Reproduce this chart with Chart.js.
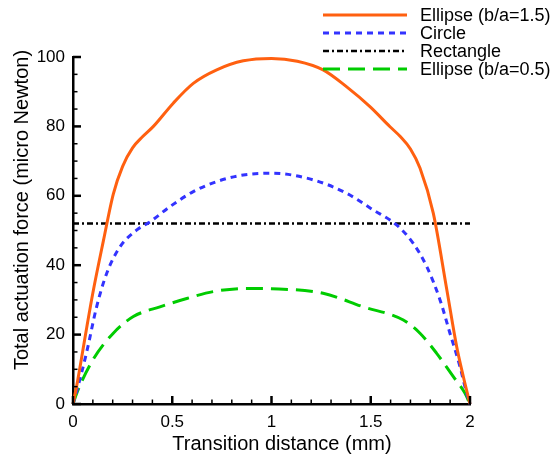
<!DOCTYPE html>
<html>
<head>
<meta charset="utf-8">
<script src="https://cdn.jsdelivr.net/npm/chart.js@4.4.1/dist/chart.umd.min.js"></script>
<style>
  html, body { margin: 0; padding: 0; background: #fff; }
  #wrap { width: 551px; height: 457px; }
</style>
</head>
<body>
<div id="wrap"><canvas id="myChart" width="551" height="457"></canvas></div>
<script>
// datos
const xTicks = [0, 0.5, 1, 1.5, 2];
const yTicks = [0, 20, 40, 60, 80, 100];

const labels = ["Ellipse (b/a=1.5)", "Circle", "Rectangle", "Ellipse (b/a=0.5)"];
const xTitle = "Transition distance (mm)";
const yTitle = "Total actuation force (micro Newton)";

const xEllipse15 = [0, 0.018, 0.069, 0.1, 0.153, 0.203, 0.25, 0.3, 0.35, 0.405, 0.505, 0.606, 0.724, 0.858, 1.0, 1.13, 1.26, 1.379, 1.496, 1.597, 1.65, 1.7, 1.748, 1.815, 1.883, 1.933, 1.966, 2.0];
const yEllipse15 = [0, 5, 22, 32, 47, 60.5, 68.5, 73.8, 77, 80, 86.7, 92.4, 96.3, 98.9, 99.6, 98.8, 96.3, 91.4, 85.7, 79.9, 77, 73.5, 68, 55, 33, 16.5, 8, 0];

const xCircle = [0, 0.018, 0.069, 0.119, 0.17, 0.237, 0.32, 0.388, 0.489, 0.606, 0.724, 0.858, 1.0, 1.21, 1.379, 1.513, 1.63, 1.714, 1.782, 1.849, 1.899, 1.95, 1.983, 2.0];
const yCircle = [0, 3.5, 15, 28, 37.7, 45.3, 50.1, 52.5, 56.9, 61.2, 64.1, 66, 66.5, 64.6, 60.7, 55.9, 51.6, 46.3, 39.6, 30, 20.4, 10.7, 3.1, 0];

const xRectangle = [0, 2];
const yRectangle = [52, 52];

const xEllipse05 = [0, 0.018, 0.1, 0.203, 0.304, 0.438, 0.573, 0.707, 0.875, 1.0, 1.26, 1.462, 1.664, 1.748, 1.832, 1.916, 1.975, 2.0];
const yEllipse05 = [0, 3, 12.7, 20.4, 25.2, 28, 30.4, 32.4, 33.3, 33.2, 31.9, 28, 24.2, 20.4, 14.6, 7.9, 3.1, 0];

const FONT = "'Liberation Sans', Arial, sans-serif";

function toPoints(xs, ys) {
  return xs.map((x, i) => ({ x: x, y: ys[i] }));
}

// ticks hacia dentro, como en la figura original
const innerTicks = {
  id: "innerTicks",
  afterDraw(chart) {
    const ctx = chart.ctx;
    const xs = chart.scales.x;
    const ys = chart.scales.y;
    const area = chart.chartArea;
    ctx.save();
    ctx.strokeStyle = "#000";
    for (let i = 0; i <= 20; i++) {
      const px = xs.getPixelForValue(i * 0.1);
      const major = i % 5 === 0;
      ctx.lineWidth = major ? 2.5 : 1.5;
      ctx.beginPath();
      ctx.moveTo(px, area.bottom);
      ctx.lineTo(px, area.bottom - (major ? 8 : 4.5));
      ctx.stroke();
    }
    for (let i = 0; i <= 20; i++) {
      const py = ys.getPixelForValue(i * 5);
      const major = i % 4 === 0;
      ctx.lineWidth = major ? 2.5 : 1.5;
      ctx.beginPath();
      ctx.moveTo(area.left, py);
      ctx.lineTo(area.left + (major ? 8 : 4.5), py);
      ctx.stroke();
    }
    ctx.restore();
  }
};

// titulos de ejes y leyenda, dibujados a mano
const sideLegend = {
  id: "sideLegend",
  afterDraw(chart) {
    const ctx = chart.ctx;
    ctx.save();
    ctx.fillStyle = "#000";

    // titulo eje x
    ctx.font = "20px " + FONT;
    ctx.textAlign = "center";
    ctx.textBaseline = "alphabetic";
    ctx.fillText(xTitle, 282, 450);

    // titulo eje y
    ctx.save();
    ctx.translate(28, 210);
    ctx.rotate(-Math.PI / 2);
    ctx.fillText(yTitle, 0, 0);
    ctx.restore();

    // leyenda
    ctx.textAlign = "left";
    ctx.textBaseline = "middle";
    ctx.font = "18px " + FONT;
    chart.data.datasets.forEach((ds, i) => {
      const y = 15 + i * 18;
      ctx.strokeStyle = ds.borderColor;
      ctx.lineWidth = ds.borderWidth;
      ctx.setLineDash(ds.borderDash || []);
      ctx.beginPath();
      ctx.moveTo(323, y);
      ctx.lineTo(407, y);
      ctx.stroke();
      ctx.setLineDash([]);
      ctx.fillText(ds.label, 420, y + 1);
    });
    ctx.restore();
  }
};

const ctx = document.getElementById("myChart").getContext("2d");
window.myChart = new Chart(ctx, {
  type: "line",
  data: {
    datasets: [
      {
        label: labels[0],
        data: toPoints(xEllipse15, yEllipse15),
        borderColor: "rgb(255, 96, 16)",
        borderWidth: 3,
        cubicInterpolationMode: "monotone",
      },
      {
        label: labels[1],
        data: toPoints(xCircle, yCircle),
        borderColor: "rgb(51, 51, 255)",
        borderWidth: 3,
        borderDash: [6, 5],
        cubicInterpolationMode: "monotone",
      },
      {
        label: labels[2],
        data: toPoints(xRectangle, yRectangle),
        borderColor: "rgb(0, 0, 0)",
        borderWidth: 2.5,
        borderDash: [6, 3, 2, 3],
      },
      {
        label: labels[3],
        data: toPoints(xEllipse05, yEllipse05),
        borderColor: "rgb(0, 204, 0)",
        borderWidth: 3,
        borderDash: [17, 8],
        cubicInterpolationMode: "monotone",
      },
    ],
  },
  options: {
    responsive: false,
    animation: false,
    clip: false,
    elements: { point: { radius: 0 } },
    layout: { padding: { top: 57, right: 81, left: 0, bottom: 0 } },
    plugins: {
      legend: { display: false },
      tooltip: { enabled: false },
    },
    scales: {
      x: {
        type: "linear",
        min: 0,
        max: 2,
        afterBuildTicks: (s) => { s.ticks = xTicks.map((v) => ({ value: v })); },
        afterFit: (s) => { s.height = 53; },
        grid: { display: false, drawTicks: false, tickLength: 0 },
        border: { display: true, color: "#000", width: 2.5 },
        ticks: {
          color: "#000",
          padding: 8,
          callback: (v) => String(v),
          font: { family: FONT, size: 17 },
        },
      },
      y: {
        min: 0,
        max: 100,
        afterBuildTicks: (s) => { s.ticks = yTicks.map((v) => ({ value: v })); },
        afterFit: (s) => { s.width = 73; },
        grid: { display: false, drawTicks: false, tickLength: 0 },
        border: { display: true, color: "#000", width: 2.5 },
        ticks: {
          color: "#000",
          padding: 8,
          callback: (v) => String(v),
          font: { family: FONT, size: 17 },
        },
      },
    },
  },
  plugins: [innerTicks, sideLegend],
});
</script>
</body>
</html>
